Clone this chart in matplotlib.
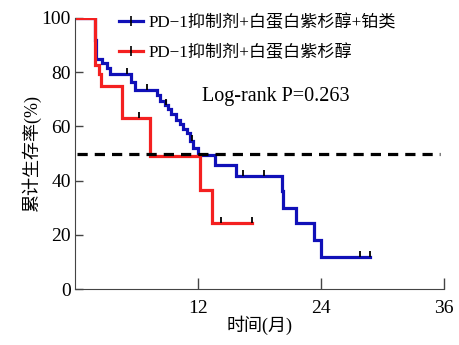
import numpy as np
import matplotlib.pyplot as plt
from matplotlib.lines import Line2D

# survival curves (time in months, survival %)
blue_t = [0, 1.95, 2.0, 2.05, 2.1, 2.7, 3.1, 3.4, 5.5, 5.9, 7.97, 8.3, 8.8, 9.1, 9.4,
          9.9, 10.24, 10.6, 10.9, 11.2, 11.5, 12.0, 13.7, 15.7, 20.2, 20.35, 21.6, 23.3, 24.05]
blue_s = [100, 96, 92, 88, 85, 83.5, 81.5, 79.5, 76.5, 73.5, 71.5, 69.5, 68, 66.5, 64.5,
          62.5, 61, 59, 57.5, 54.5, 52, 49.5, 45.8, 41.8, 36, 30, 24.4, 18.1, 12]
blue_end = 28.8
blue_cens = [5.1, 7.0, 8.9, 11.4, 16.4, 18.5, 27.8, 28.8]

red_t = [0, 1.95, 2.4, 2.6, 4.65, 7.3, 12.25, 13.4]
red_s = [100, 82.5, 79.5, 75, 63, 49, 36.5, 24.3]
red_end = 17.3
red_cens = [6.25, 14.3, 17.3]

median_line = 50
labels = ["PD\u22121抑制剂+白蛋白紫杉醇+铂类", "PD\u22121抑制剂+白蛋白紫杉醇"]
blue_c = "#1010b8"
red_c = "#f42020"

fonts = ["Liberation Serif", "Noto Sans CJK SC"]
plt.rcParams["font.family"] = fonts

fig = plt.figure(figsize=(4.59, 3.45), dpi=100)
ax = fig.add_axes([0.163, 0.162, 0.804, 0.786])


def level_at(ts, ss, x):
    i = np.searchsorted(ts, x, side="right") - 1
    return ss[i]


def draw_curve(ts, ss, end, cens, color):
    xs = list(ts) + [end]
    ys = list(ss) + [ss[-1]]
    ax.step(xs, ys, where="post", color=color, lw=2.3, solid_joinstyle="miter")
    cy = [level_at(ts, ss, c) for c in cens]
    ax.vlines(cens, cy, np.array(cy) + 2.2, color="black", lw=1.3, zorder=3)


draw_curve(blue_t, blue_s, blue_end, blue_cens, blue_c)
draw_curve(red_t, red_s, red_end, red_cens, red_c)

ax.plot([0.2, 35.6], [median_line, median_line], color="black", lw=2.3,
        dashes=(3.2, 2.2))

ax.set_xlim(0, 36)
ax.set_ylim(0, 100)
ax.set_xticks([12, 24, 36])
ax.set_yticks([0, 20, 40, 60, 80, 100])
ax.tick_params(direction="in", length=6, width=1, colors="#444444",
               labelcolor="black", labelsize=14)
ax.tick_params(axis="x", length=8, pad=8)
ax.tick_params(axis="y", pad=3)
for s in ["top", "right"]:
    ax.spines[s].set_visible(False)
for s in ["left", "bottom"]:
    ax.spines[s].set_color("#444444")

ax.set_xlabel("时间(月)", fontsize=13, labelpad=-1)
ax.set_ylabel("累计生存率(%)", fontsize=13, labelpad=0)

handles = [Line2D([], [], color=c, lw=2.3, marker="|", markersize=7,
                  markeredgecolor="black", markeredgewidth=1.2)
           for c in (blue_c, red_c)]
ax.legend(handles, labels, loc="upper left", bbox_to_anchor=(0.1, 1.04),
          frameon=False, fontsize=12.3, handlelength=1.45, handletextpad=0.3,
          labelspacing=0.8, borderaxespad=0, numpoints=1)
ax.text(0.345, 0.71, "Log-rank P=0.263", transform=ax.transAxes, fontsize=14.5,
        va="center")

fig.savefig("out.png", dpi=100)
